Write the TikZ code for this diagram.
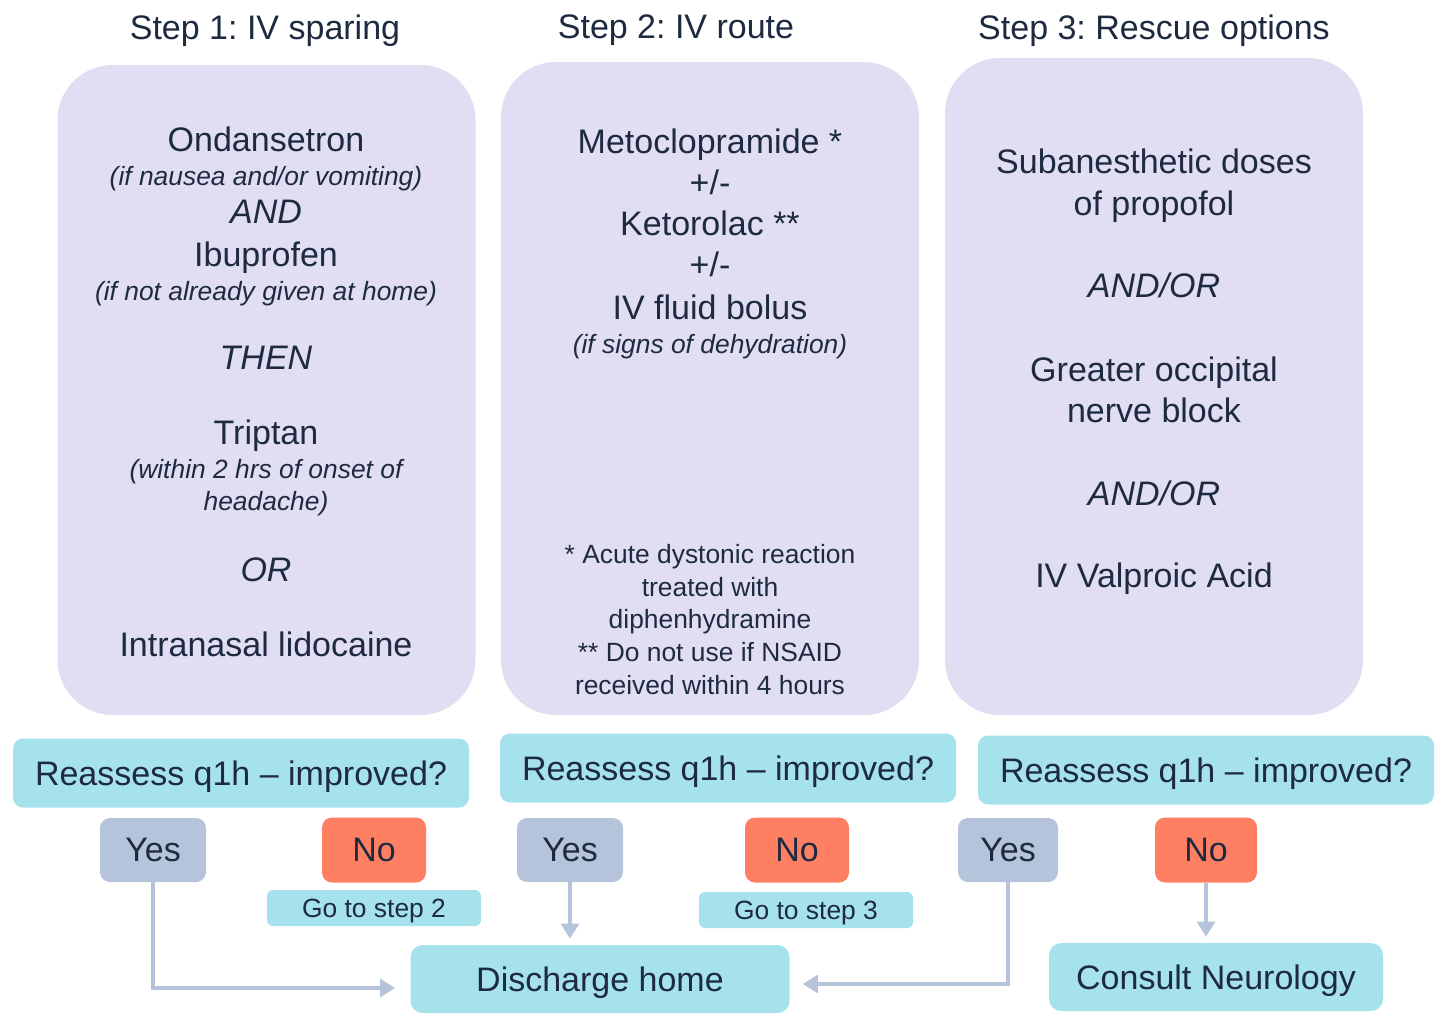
\documentclass[tikz,border=0pt]{standalone}
\usepackage{fontspec}
\setmainfont{Liberation Sans}
\usetikzlibrary{arrows.meta}

\definecolor{ink}{HTML}{1D2A40}
\definecolor{lav}{HTML}{E1DEF3}
\definecolor{aqua}{HTML}{A6E2EC}
\definecolor{slate}{HTML}{B5C4DA}
\definecolor{coral}{HTML}{FF7F62}

\newcommand{\bigtxt}{\fontsize{17}{20}\selectfont}
\newcommand{\smalltxt}{\fontsize{13.2}{16}\selectfont}
\frenchspacing

\begin{document}
\begin{tikzpicture}[x=0.5pt,y=-0.5pt,
        stepbox/.style={fill=lav,rounded corners=27.5pt,minimum width=209pt,inner sep=0pt},
        line/.style={text=ink,font=\bigtxt,inner sep=0pt,text depth=0pt},
        note/.style={text=ink,font=\smalltxt,inner sep=0pt,text depth=0pt},
        askbox/.style={fill=aqua,rounded corners=5pt,minimum width=228pt,minimum height=34.5pt,text=ink,font=\bigtxt,text depth=0pt},
        yesbox/.style={fill=slate,rounded corners=5pt,minimum width=53pt,minimum height=32pt,text=ink,font=\bigtxt,text depth=0pt},
        nobox/.style={fill=coral,rounded corners=5pt,minimum width=52pt,minimum height=32.5pt,text=ink,font=\bigtxt,text depth=0pt},
        gobox/.style={fill=aqua,rounded corners=3pt,minimum width=107pt,minimum height=18pt,inner sep=0pt,text=ink,font=\smalltxt,text depth=0pt},
        endbox/.style={fill=aqua,rounded corners=6pt,minimum height=34pt,text=ink,font=\bigtxt,text depth=0pt},
        flow/.style={draw=slate,line width=1.6pt,-{Triangle[length=7.5pt,width=9pt]}}]
    \useasboundingbox (0,0) rectangle (1437,1013);

    % Headings
    \node[line] (h1) at (265,27) {Step 1: IV sparing};
    \node[line] (h2) at (676,27) {Step 2: IV route};
    \node[line] (h3) at (1154,27) {Step 3: Rescue options};

    % Step boxes
    \node[stepbox,minimum height=325pt] (s1) at (266.5,390) {};
    \node[stepbox,minimum height=326.5pt] (s2) at (710,388.5) {};
    \node[stepbox,minimum height=328.5pt] (s3) at (1154,386.5) {};

    % Step 1 text
    \node[line] (a1) at (266,139) {Ondansetron};
    \node[note] (a2) at (266,176) {\itshape (if nausea and/or vomiting)};
    \node[line] (a3) at (266,212) {\itshape AND};
    \node[line] (a4) at (266,254) {Ibuprofen};
    \node[note] (a5) at (266,291) {\itshape (if not already given at home)};
    \node[line] (a6) at (266,358) {\itshape THEN};
    \node[line] (a7) at (266,432) {Triptan};
    \node[note] (a8) at (266,469) {\itshape (within 2 hrs of onset of};
    \node[note] (a9) at (266,501) {\itshape headache)};
    \node[line] (a10) at (266,570) {\itshape OR};
    \node[line] (a11) at (266,644) {Intranasal lidocaine};

    % Step 2 text
    \node[line] (b1) at (710,141) {Metoclopramide *};
    \node[line] (b2) at (710,182) {+/-};
    \node[line] (b3) at (710,223) {Ketorolac **};
    \node[line] (b4) at (710,264) {+/-};
    \node[line] (b5) at (710,307) {IV fluid bolus};
    \node[note] (b6) at (710,344) {\itshape (if signs of dehydration)};
    \node[note] (b7) at (710,554) {* Acute dystonic reaction};
    \node[note] (b8) at (710,587) {treated with};
    \node[note] (b9) at (710,619) {diphenhydramine};
    \node[note] (b10) at (710,652) {** Do not use if NSAID};
    \node[note] (b11) at (710,685) {received within 4 hours};

    % Step 3 text
    \node[line] (c1) at (1154,161) {Subanesthetic doses};
    \node[line] (c2) at (1154,203) {of propofol};
    \node[line] (c3) at (1154,285) {\itshape AND/OR};
    \node[line] (c4) at (1154,369) {Greater occipital};
    \node[line] (c5) at (1154,410) {nerve block};
    \node[line] (c6) at (1154,493) {\itshape AND/OR};
    \node[line] (c7) at (1154,575) {IV Valproic Acid};

    % Reassess rows
    \node[askbox] (r1) at (241,773) {Reassess q1h -- improved?};
    \node[askbox] (r2) at (728,768) {Reassess q1h -- improved?};
    \node[askbox] (r3) at (1206,770) {Reassess q1h -- improved?};

    \node[yesbox] (y1) at (153,850) {Yes};
    \node[nobox] (n1) at (374,850) {No};
    \node[gobox] (g1) at (374,908) {Go to step 2};
    \node[yesbox] (y2) at (570,850) {Yes};
    \node[nobox] (n2) at (797,850) {No};
    \node[gobox] (g2) at (806,910) {Go to step 3};
    \node[yesbox,minimum width=50pt] (y3) at (1008,850) {Yes};
    \node[nobox,minimum width=51pt] (n3) at (1206,850) {No};

    % Outcomes
    \node[endbox,minimum width=189.5pt] (dis) at (600,979) {Discharge home};
    \node[endbox,minimum width=167pt] (neu) at (1216,977) {Consult Neurology};

    % Arrows
    \draw[flow,shorten >=7.5pt] (y1.south) |- ([yshift=-4.5pt]dis.west);
    \draw[flow,shorten >=3pt] (y2.south) -- (y2.south |- dis.north);
    \draw[flow,shorten >=6.5pt] (y3.south) |- ([yshift=-2.5pt]dis.east);
    \draw[flow,shorten >=3pt] (n3.south) -- (n3.south |- neu.north);
\end{tikzpicture}
\end{document}
